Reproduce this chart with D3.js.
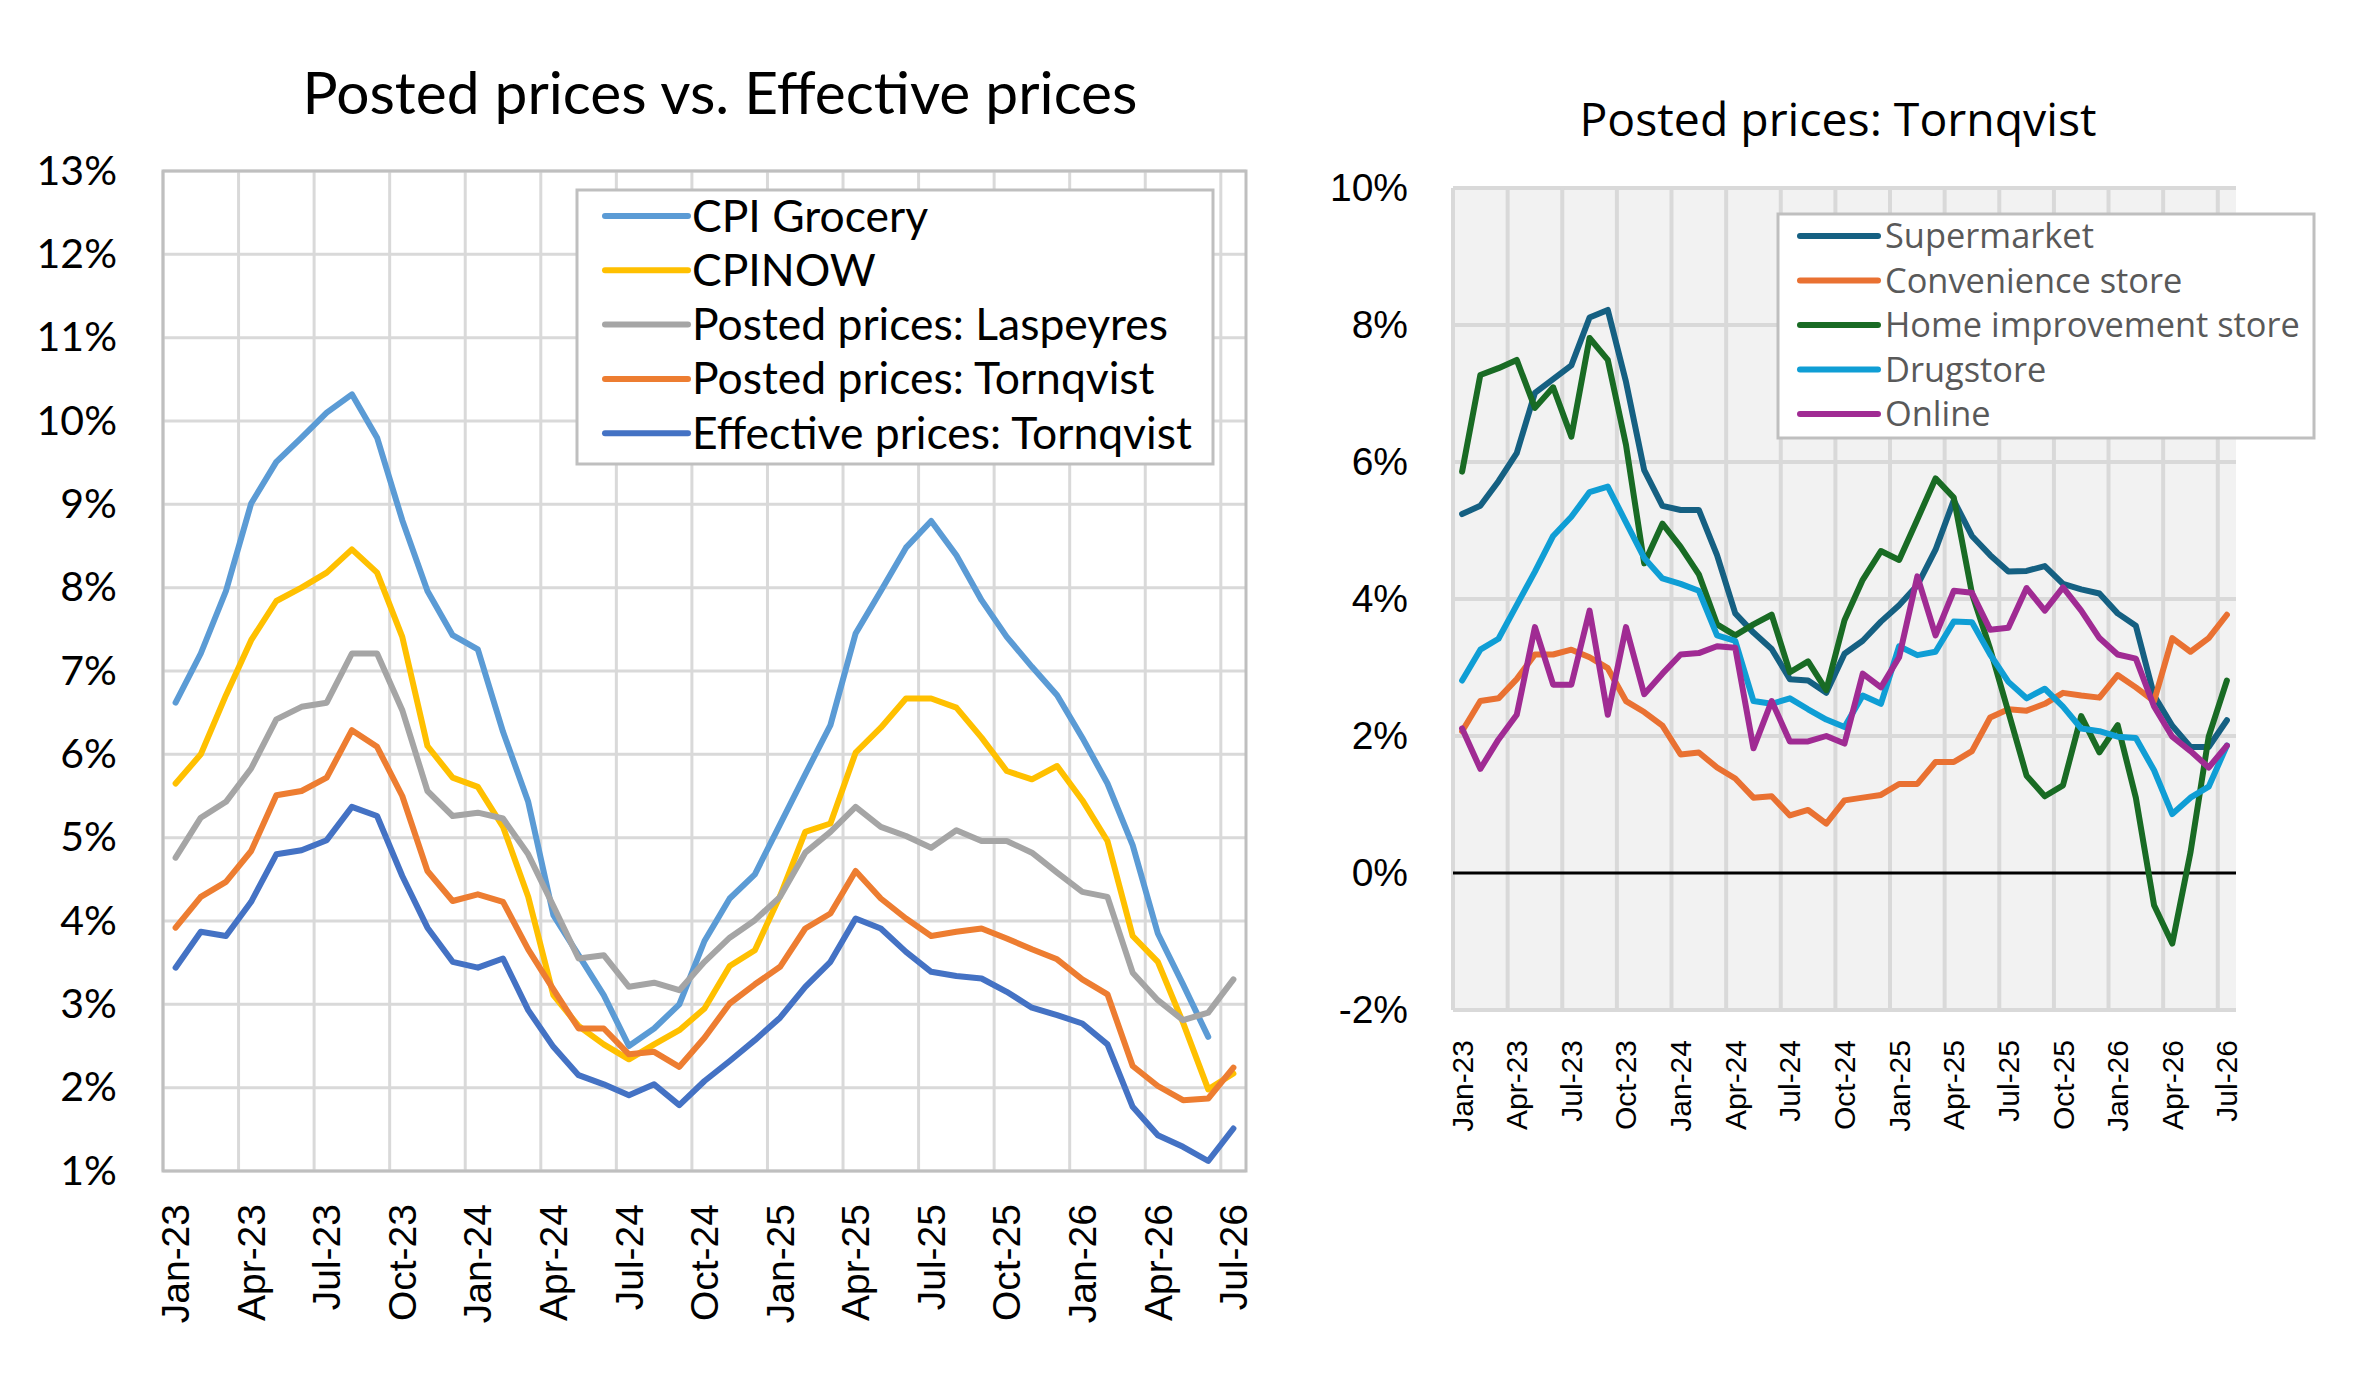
<!DOCTYPE html>
<html>
<head>
<meta charset="utf-8">
<script src="https://cdn.jsdelivr.net/npm/d3@7"></script>
<style>
  body { margin: 0; background: #fff; }
</style>
</head>
<body>
<div id="chart"></div>
<script>
// Months Jan-23 .. Jul-26 (43 monthly points), labels every 3 months
const months = d3.timeMonth.range(new Date(2023, 0, 1), new Date(2026, 7, 1));
const fmtMonth = d3.timeFormat("%b-%y");
const tickMonths = months.filter((d, i) => i % 3 === 0);

// Left chart: year-over-year %
const cpiGrocery = [6.62,7.21,7.96,9.01,9.51,9.8,10.1,10.32,9.8,8.81,7.96,7.43,7.26,6.27,5.43,4.07,3.59,3.11,2.5,2.71,3.0,3.76,4.27,4.56,5.16,5.76,6.35,7.45,7.96,8.48,8.8,8.39,7.85,7.41,7.05,6.71,6.2,5.65,4.91,3.85,3.24,2.61,null];
const cpiNow = [5.65,6.0,6.71,7.37,7.84,8.0,8.18,8.46,8.18,7.41,6.1,5.72,5.61,5.13,4.29,3.11,2.74,2.52,2.34,2.52,2.69,2.95,3.46,3.65,4.3,5.07,5.17,6.02,6.32,6.67,6.67,6.56,6.2,5.8,5.7,5.86,5.45,4.96,3.82,3.51,2.78,1.98,2.17];
const postedLaspeyres = [4.76,5.24,5.43,5.83,6.42,6.57,6.62,7.21,7.21,6.53,5.56,5.26,5.3,5.23,4.8,4.18,3.55,3.59,3.21,3.26,3.17,3.51,3.8,4.01,4.29,4.82,5.07,5.37,5.13,5.02,4.88,5.09,4.96,4.96,4.82,4.58,4.35,4.29,3.38,3.05,2.81,2.9,3.3];
const postedTornqvist = [3.92,4.29,4.47,4.84,5.51,5.56,5.72,6.29,6.09,5.5,4.6,4.24,4.32,4.23,3.66,3.18,2.71,2.71,2.4,2.43,2.25,2.6,3.01,3.24,3.45,3.91,4.09,4.6,4.27,4.03,3.82,3.87,3.91,3.79,3.66,3.54,3.3,3.12,2.26,2.02,1.85,1.87,2.24];
const effectiveTornqvist = [3.44,3.87,3.82,4.23,4.8,4.85,4.97,5.37,5.26,4.54,3.92,3.51,3.44,3.55,2.93,2.49,2.15,2.04,1.91,2.04,1.79,2.08,2.32,2.57,2.84,3.21,3.51,4.03,3.91,3.63,3.39,3.34,3.31,3.15,2.96,2.87,2.77,2.52,1.77,1.43,1.29,1.12,1.51];

// Right chart: posted prices Tornqvist by store type
const supermarket = [5.24,5.36,5.72,6.13,7.01,7.21,7.41,8.11,8.22,7.17,5.88,5.36,5.3,5.3,4.64,3.79,3.51,3.27,2.83,2.81,2.63,3.2,3.39,3.67,3.91,4.2,4.72,5.44,4.92,4.64,4.4,4.41,4.48,4.22,4.14,4.08,3.79,3.61,2.59,2.15,1.84,1.84,2.23];
const convenience = [2.07,2.51,2.55,2.83,3.19,3.19,3.26,3.15,2.99,2.51,2.35,2.15,1.73,1.76,1.54,1.38,1.1,1.12,0.84,0.92,0.72,1.06,1.1,1.14,1.3,1.3,1.62,1.62,1.78,2.27,2.39,2.37,2.47,2.63,2.59,2.56,2.89,2.71,2.51,3.43,3.23,3.43,3.77];
const homeImprovement = [5.86,7.27,7.37,7.49,6.79,7.09,6.37,7.81,7.49,6.25,4.52,5.1,4.76,4.36,3.63,3.47,3.63,3.77,2.93,3.09,2.67,3.69,4.28,4.7,4.57,5.16,5.76,5.48,4.08,3.27,2.35,1.42,1.12,1.28,2.29,1.76,2.16,1.1,-0.47,-1.03,0.3,1.99,2.81];
const drugstore = [2.81,3.26,3.42,3.91,4.4,4.92,5.2,5.56,5.64,5.12,4.6,4.3,4.22,4.12,3.47,3.39,2.51,2.47,2.55,2.39,2.24,2.13,2.59,2.47,3.31,3.18,3.23,3.67,3.66,3.19,2.79,2.55,2.69,2.43,2.11,2.07,1.99,1.97,1.5,0.86,1.1,1.26,1.86];
const online = [2.11,1.52,1.95,2.31,3.59,2.75,2.75,3.83,2.31,3.59,2.61,2.91,3.19,3.21,3.31,3.29,1.82,2.51,1.92,1.92,2.0,1.89,2.91,2.71,3.15,4.33,3.47,4.12,4.09,3.55,3.58,4.16,3.83,4.17,3.83,3.43,3.19,3.13,2.43,1.99,1.78,1.54,1.86];

const leftSeries = [
  { name: "CPI Grocery", values: cpiGrocery, color: "#5B9BD5" },
  { name: "CPINOW", values: cpiNow, color: "#FFC000" },
  { name: "Posted prices: Laspeyres", values: postedLaspeyres, color: "#A5A5A5" },
  { name: "Posted prices: Tornqvist", values: postedTornqvist, color: "#ED7D31" },
  { name: "Effective prices: Tornqvist", values: effectiveTornqvist, color: "#4472C4" }
];
const rightSeries = [
  { name: "Supermarket", values: supermarket, color: "#156082" },
  { name: "Convenience store", values: convenience, color: "#E97132" },
  { name: "Home improvement store", values: homeImprovement, color: "#196B24" },
  { name: "Drugstore", values: drugstore, color: "#0F9ED5" },
  { name: "Online", values: online, color: "#A02B93" }
];

const width = 2359, height = 1391;
const svg = d3.select("#chart")
  .append("svg")
  .attr("width", width)
  .attr("height", height)
  .style("background", "#fff");

// scale a text's font size so it spans the given width
function fitText(sel, targetWidth) {
  const fs = parseFloat(sel.attr("font-size"));
  const w = sel.node().getComputedTextLength();
  sel.attr("font-size", (fs * targetWidth / w).toFixed(2));
  return sel;
}

// ---------------- Left chart ----------------
const xL = d3.scaleBand().domain(months).range([163, 1246]);
const yL = d3.scaleLinear().domain([1, 13]).range([1171, 171]);
const left = svg.append("g");

left.append("g").selectAll("line")
  .data(d3.range(1, 14))
  .join("line")
  .attr("x1", xL.range()[0]).attr("x2", xL.range()[1])
  .attr("y1", d => yL(d)).attr("y2", d => yL(d))
  .attr("stroke", "#D9D9D9").attr("stroke-width", 3);

left.append("g").selectAll("line")
  .data(tickMonths)
  .join("line")
  .attr("x1", d => xL(d)).attr("x2", d => xL(d))
  .attr("y1", yL(13)).attr("y2", yL(1))
  .attr("stroke", "#D9D9D9").attr("stroke-width", 3);

left.append("rect")
  .attr("x", xL.range()[0]).attr("y", yL(13))
  .attr("width", xL.range()[1] - xL.range()[0])
  .attr("height", yL(1) - yL(13))
  .attr("fill", "none").attr("stroke", "#BFBFBF").attr("stroke-width", 3);

const yAxisL = left.append("g")
  .attr("transform", `translate(${xL.range()[0]},0)`)
  .call(d3.axisLeft(yL).tickValues(d3.range(1, 14)).tickFormat(d => d + "%").tickSize(0).tickPadding(46));
yAxisL.select(".domain").remove();
yAxisL.selectAll("text")
  .attr("font-family", "Lato").attr("font-size", 41).attr("fill", "#000");

const xAxisL = left.append("g")
  .attr("transform", `translate(0,${yL(1)})`)
  .call(d3.axisBottom(xL).tickValues(tickMonths).tickFormat(fmtMonth).tickSize(0));
xAxisL.select(".domain").remove();
xAxisL.selectAll("text")
  .attr("transform", "rotate(-90)")
  .attr("x", -33).attr("y", 0).attr("dy", "0.35em")
  .attr("text-anchor", "end")
  .attr("font-family", "Liberation Sans").attr("font-size", 39).attr("fill", "#000");

const lineL = d3.line()
  .defined(d => d != null)
  .x((d, i) => xL(months[i]) + xL.bandwidth() / 2)
  .y(d => yL(d));

left.append("g").selectAll("path")
  .data(leftSeries)
  .join("path")
  .attr("d", d => lineL(d.values))
  .attr("fill", "none")
  .attr("stroke", d => d.color)
  .attr("stroke-width", 6)
  .attr("stroke-linejoin", "round")
  .attr("stroke-linecap", "round");

fitText(left.append("text")
  .attr("x", 720).attr("y", 114)
  .attr("text-anchor", "middle")
  .attr("font-family", "Lato").attr("font-size", 50).attr("fill", "#000")
  .text("Posted prices vs. Effective prices"), 835);

// left legend
const legL = left.append("g");
legL.append("rect")
  .attr("x", 577).attr("y", 190).attr("width", 636).attr("height", 274)
  .attr("fill", "#fff").attr("stroke", "#BFBFBF").attr("stroke-width", 3);
const legLItems = legL.selectAll("g.item")
  .data(leftSeries)
  .join("g")
  .attr("class", "item")
  .attr("transform", (d, i) => `translate(0,${216 + i * 54.3})`);
legLItems.append("line")
  .attr("x1", 605).attr("x2", 688)
  .attr("stroke", d => d.color).attr("stroke-width", 6).attr("stroke-linecap", "round");
const legLText = legLItems.append("text")
  .attr("x", 692).attr("dy", "0.35em")
  .attr("font-family", "Lato").attr("font-size", 38).attr("fill", "#000")
  .text(d => d.name);
{
  const ref = legLText.filter(d => d.name === "Effective prices: Tornqvist");
  fitText(ref, 500);
  legLText.attr("font-size", ref.attr("font-size"));
}

// ---------------- Right chart ----------------
const xR = d3.scaleBand().domain(months).range([1453, 2236]);
const yR = d3.scaleLinear().domain([-2, 10]).range([1010, 188]);
const right = svg.append("g");

right.append("rect")
  .attr("x", xR.range()[0]).attr("y", yR(10))
  .attr("width", xR.range()[1] - xR.range()[0])
  .attr("height", yR(-2) - yR(10))
  .attr("fill", "#F2F2F2");

right.append("g").selectAll("line")
  .data([-2, 2, 4, 6, 8, 10])
  .join("line")
  .attr("x1", xR.range()[0]).attr("x2", xR.range()[1])
  .attr("y1", d => yR(d)).attr("y2", d => yR(d))
  .attr("stroke", "#D9D9D9").attr("stroke-width", 4);

right.append("g").selectAll("line")
  .data(tickMonths)
  .join("line")
  .attr("x1", d => xR(d)).attr("x2", d => xR(d))
  .attr("y1", yR(10)).attr("y2", yR(-2))
  .attr("stroke", "#D9D9D9").attr("stroke-width", 4);

right.append("line")
  .attr("x1", xR.range()[0]).attr("x2", xR.range()[1])
  .attr("y1", yR(0)).attr("y2", yR(0))
  .attr("stroke", "#000").attr("stroke-width", 3);

const yAxisR = right.append("g")
  .attr("transform", `translate(${xR.range()[0]},0)`)
  .call(d3.axisLeft(yR).tickValues(d3.range(-2, 11, 2)).tickFormat(d => d + "%").tickSize(0).tickPadding(45));
yAxisR.select(".domain").remove();
yAxisR.selectAll("text")
  .attr("font-family", "Liberation Sans").attr("font-size", 39).attr("fill", "#000");

const xAxisR = right.append("g")
  .attr("transform", `translate(0,${yR(-2)})`)
  .call(d3.axisBottom(xR).tickValues(tickMonths).tickFormat(fmtMonth).tickSize(0));
xAxisR.select(".domain").remove();
xAxisR.selectAll("text")
  .attr("transform", "rotate(-90)")
  .attr("x", -30).attr("y", 0).attr("dy", "0.35em")
  .attr("text-anchor", "end")
  .attr("font-family", "Liberation Sans").attr("font-size", 30).attr("fill", "#000");

const lineR = d3.line()
  .x((d, i) => xR(months[i]) + xR.bandwidth() / 2)
  .y(d => yR(d));

right.append("g").selectAll("path")
  .data(rightSeries)
  .join("path")
  .attr("d", d => lineR(d.values))
  .attr("fill", "none")
  .attr("stroke", d => d.color)
  .attr("stroke-width", 6)
  .attr("stroke-linejoin", "round")
  .attr("stroke-linecap", "round");

fitText(right.append("text")
  .attr("x", 1838).attr("y", 136)
  .attr("text-anchor", "middle")
  .attr("font-family", "Open Sans").attr("font-size", 42).attr("fill", "#000")
  .text("Posted prices: Tornqvist"), 517);

// right legend
const legR = right.append("g");
legR.append("rect")
  .attr("x", 1778).attr("y", 214).attr("width", 536).attr("height", 224)
  .attr("fill", "#fff").attr("stroke", "#BFBFBF").attr("stroke-width", 3);
const legRItems = legR.selectAll("g.item")
  .data(rightSeries)
  .join("g")
  .attr("class", "item")
  .attr("transform", (d, i) => `translate(0,${236 + i * 44.5})`);
legRItems.append("line")
  .attr("x1", 1800).attr("x2", 1878)
  .attr("stroke", d => d.color).attr("stroke-width", 6).attr("stroke-linecap", "round");
const legRText = legRItems.append("text")
  .attr("x", 1885).attr("dy", "0.35em")
  .attr("font-family", "Open Sans").attr("font-size", 32).attr("fill", "#595959")
  .text(d => d.name);
{
  const ref = legRText.filter(d => d.name === "Home improvement store");
  fitText(ref, 415);
  legRText.attr("font-size", ref.attr("font-size"));
}
</script>
</body>
</html>
